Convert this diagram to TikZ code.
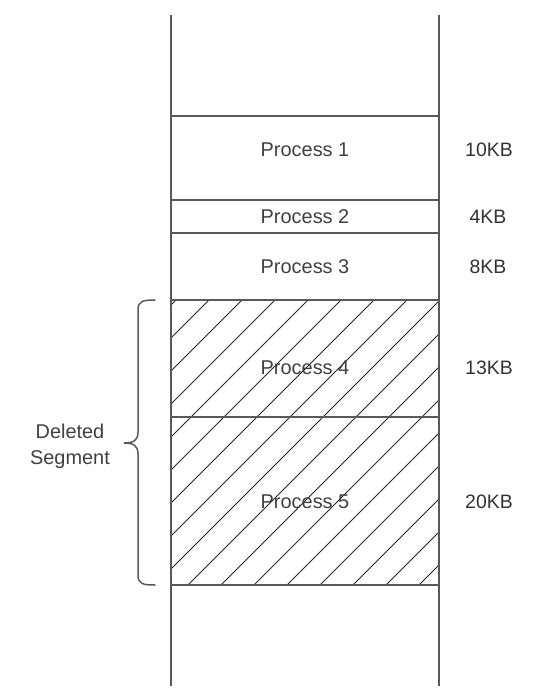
\documentclass[tikz,border=0pt]{standalone}
\usepackage{fontspec}
\setmainfont{Liberation Sans}
\begin{document}
\begin{tikzpicture}[x=1bp,y=-1bp,
  wall/.style={draw=black!65,line width=1.6bp},
  sep/.style={draw=black!65,line width=1.6bp},
  hatch/.style={draw=black!85,line width=1bp},
  lbl/.style={text=black!75,font=\fontsize{20}{23}\selectfont,inner sep=0pt},
  sz/.style={text=black!80,font=\fontsize{19.5}{22}\selectfont,inner sep=0pt}]
\useasboundingbox (0,0) rectangle (540,694);
% hatching
\begin{scope}
  \clip (171,300) rectangle (439,585);
  \foreach \k in {-10,...,12}{
    \pgfmathsetmacro{\c}{773-33*\k}
    \draw[hatch] (\c-300,300) -- (\c-585,585);
  }
\end{scope}
% walls
\coordinate (lt) at (171,15);
\coordinate (lb) at (171,686);
\coordinate (rt) at (439,15);
\coordinate (rb) at (439,686);
\draw[wall] (lt) -- (lb);
\draw[wall] (rt) -- (rb);
% separators
\foreach \y/\n in {116/a,200/b,233/c,300/d,417/e,585/f}{
  \coordinate (\n l) at (171,\y);
  \coordinate (\n r) at (439,\y);
  \draw[sep] (\n l) -- (\n r);
}
% labels
\node[lbl] (p1) at (305,150) {Process 1};
\node[lbl] (p2) at (305,217) {Process 2};
\node[lbl] (p3) at (305,267) {Process 3};
\node[lbl] (p4) at (305,368) {Process 4};
\node[lbl] (p5) at (305,502) {Process 5};
\node[sz] (s1) at (489,150) {10KB};
\node[sz] (s2) at (488,217) {4KB};
\node[sz] (s3) at (488,267) {8KB};
\node[sz] (s4) at (489,368) {13KB};
\node[sz] (s5) at (489,502) {20KB};
% brace
\draw[draw=black!65,line width=1.5bp,line cap=round]
  (155,300) .. controls (143,300) and (138,301) .. (138,310)
  -- (138,432) .. controls (138,440) and (134,443) .. (124,443)
  .. controls (134,443) and (138,446) .. (138,454)
  -- (138,575) .. controls (138,584) and (143,585) .. (155,585);
\node[lbl,align=center] (del) at (70,446) {Deleted\\[3bp]Segment};
\end{tikzpicture}
\end{document}
